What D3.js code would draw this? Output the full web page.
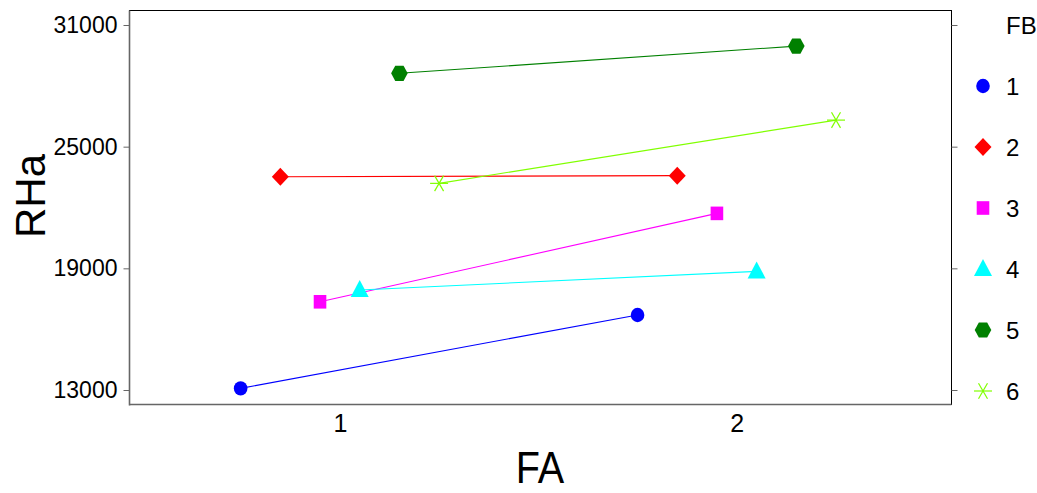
<!DOCTYPE html>
<html><head><meta charset="utf-8">
<script src="https://cdn.jsdelivr.net/npm/d3@7"></script>
<style>body{margin:0;background:#fff}svg{display:block}text{font-family:"Liberation Sans",Arial,sans-serif;fill:#000}</style>
</head><body>
<svg id="c" width="1037" height="493"></svg>
<script>
const faLevels = [1, 2];
const fbLevels = ["1", "2", "3", "4", "5", "6"];
const fb1 = [13080, 16700];
const fb2 = [23520, 23570];
const fb3 = [17350, 21710];
const fb4 = [17930, 18850];
const fb5 = [28620, 29960];
const fb6 = [23190, 26310];
const yTicks = [13000, 19000, 25000, 31000];
const series = [fb1, fb2, fb3, fb4, fb5, fb6];
const colors = ["#0000ff", "#ff0000", "#ff00ff", "#00ffff", "#008000", "#80ff00"];

const svg = d3.select("#c");
const L = 129.5, R = 951.5, T = 10.5, B = 404.5;
const x = d3.scaleLinear().domain([0.47, 2.541]).range([L, R]);
const y = d3.scaleLinear().domain([13000, 31000]).range([390, 25]);

// frame
svg.append("rect").attr("x", L).attr("y", T).attr("width", R - L).attr("height", B - T)
  .attr("fill", "none").attr("stroke", "#000").attr("stroke-width", 1);
svg.append("line").attr("x1", L).attr("x2", L).attr("y1", T).attr("y2", B + 1).attr("stroke", "#666").attr("stroke-width", 1.6);
svg.append("line").attr("x1", L).attr("x2", R).attr("y1", B).attr("y2", B).attr("stroke", "#666").attr("stroke-width", 1.6);

// left axis
const ly = svg.append("g").attr("transform", `translate(${L},0)`)
  .call(d3.axisLeft(y).tickValues(yTicks).tickSize(6).tickPadding(6).tickFormat(d3.format("d")));
ly.select(".domain").remove();
ly.selectAll(".tick line").attr("stroke", "#666");
ly.selectAll("text").attr("font-size", 23).attr("font-family", "Liberation Sans");
// right axis ticks only
const ry = svg.append("g").attr("transform", `translate(${R},0)`)
  .call(d3.axisRight(y).tickValues(yTicks).tickSize(6).tickFormat(""));
ry.select(".domain").remove();
ry.selectAll(".tick line").attr("stroke", "#666");

// bottom tick labels
const bx = svg.append("g").attr("transform", `translate(0,${B})`)
  .call(d3.axisBottom(x).tickValues(faLevels).tickSize(0).tickPadding(10).tickFormat(d3.format("d")));
bx.select(".domain").remove();
bx.selectAll("text").attr("font-size", 25).attr("font-family", "Liberation Sans");

// axis titles
svg.append("text").attr("transform", "translate(540,483) scale(0.9,1)")
  .attr("text-anchor", "middle").attr("font-size", 44).text("FA");
svg.append("text").attr("transform", "translate(45,196) rotate(-90)")
  .attr("text-anchor", "middle").attr("font-size", 42).text("RHa");

function marker(g, i, cx, cy) {
  const c = colors[i];
  if (i === 0) g.append("ellipse").attr("cx", cx).attr("cy", cy).attr("rx", 6.8).attr("ry", 7.2).attr("fill", c);
  else if (i === 1) g.append("path").attr("d", `M${cx},${cy-9}L${cx+8.5},${cy}L${cx},${cy+9}L${cx-8.5},${cy}Z`).attr("fill", c);
  else if (i === 2) g.append("rect").attr("x", cx - 6.3).attr("y", cy - 6.8).attr("width", 12.6).attr("height", 13.6).attr("fill", c);
  else if (i === 3) g.append("path").attr("d", `M${cx},${cy-10}L${cx+9},${cy+7}L${cx-9},${cy+7}Z`).attr("fill", c);
  else if (i === 4) {
    const pts = d3.range(6).map(k => { const a = Math.PI / 3 * k; return [cx + 8.3 * Math.cos(a), cy + 8.8 * Math.sin(a)]; });
    g.append("path").attr("d", "M" + pts.join("L") + "Z").attr("fill", c);
  } else {
    [0, 60, 120].forEach(a => {
      const r = Math.PI * a / 180, rr = 9;
      g.append("line").attr("x1", cx - rr * Math.cos(r)).attr("y1", cy - rr * Math.sin(r))
        .attr("x2", cx + rr * Math.cos(r)).attr("y2", cy + rr * Math.sin(r))
        .attr("stroke", c).attr("stroke-width", 1.2);
    });
  }
}

const gp = svg.append("g");
series.forEach((vals, i) => {
  const off = (i - 2.5) * 0.1;
  const pts = vals.map((v, j) => [x(faLevels[j] + off), y(v)]);
  gp.append("path").attr("d", d3.line()(pts)).attr("fill", "none").attr("stroke", colors[i]).attr("stroke-width", 1.1);
});
series.forEach((vals, i) => {
  const off = (i - 2.5) * 0.1;
  vals.forEach((v, j) => marker(gp, i, x(faLevels[j] + off), y(v)));
});

// legend
const lg = svg.append("g");
lg.append("text").attr("x", 1006).attr("y", 34).attr("font-size", 24).text("FB");
fbLevels.forEach((lab, i) => {
  const cy = 86 + i * 61;
  marker(lg, i, 983, cy);
  lg.append("text").attr("x", 1006).attr("y", cy + 9).attr("font-size", 24).text(lab);
});
</script>
</body></html>
